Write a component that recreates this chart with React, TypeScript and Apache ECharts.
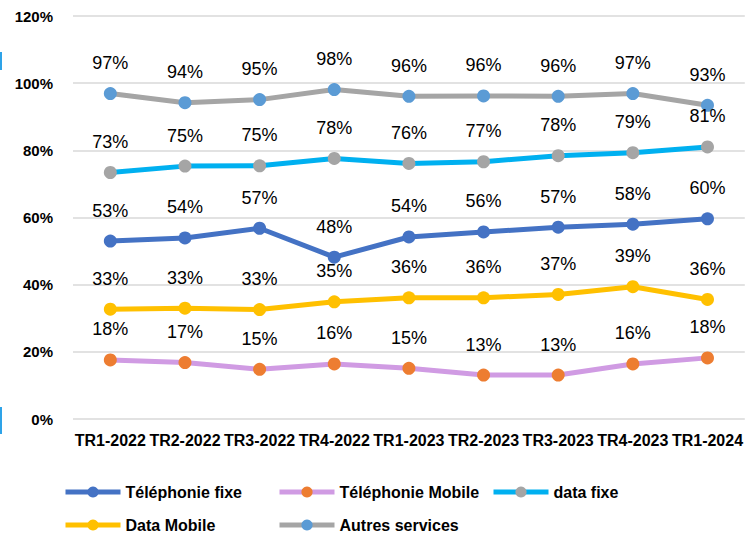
import React, { useEffect, useRef } from "react";
import * as echarts from "echarts";

const categories = ["TR1-2022", "TR2-2022", "TR3-2022", "TR4-2022", "TR1-2023", "TR2-2023", "TR3-2023", "TR4-2023", "TR1-2024"];
const telFixe = [53.0, 53.9, 56.8, 48.2, 54.2, 55.7, 57.1, 58.0, 59.6];
const telMobile = [17.6, 16.8, 14.8, 16.4, 15.1, 13.1, 13.1, 16.4, 18.2];
const dataFixe = [73.4, 75.3, 75.4, 77.6, 76.1, 76.6, 78.4, 79.3, 81.0];
const dataMobile = [32.7, 33.0, 32.6, 34.9, 36.1, 36.1, 37.1, 39.4, 35.6];
const autres = [96.9, 94.2, 95.1, 98.1, 96.1, 96.2, 96.1, 96.9, 93.4];
const yTicks = { min: 0, max: 120, interval: 20 };

const seriesDefs = [
  { name: "Téléphonie fixe", data: telFixe, line: "#4472C4", marker: "#4472C4" },
  { name: "Téléphonie Mobile", data: telMobile, line: "#D09BE3", marker: "#ED7D31" },
  { name: "data fixe", data: dataFixe, line: "#00B0F0", marker: "#A5A5A5" },
  { name: "Data Mobile", data: dataMobile, line: "#FFC000", marker: "#FFC000" },
  { name: "Autres services", data: autres, line: "#A5A5A5", marker: "#5B9BD5" },
];

const legendPos = [
  { left: 63, top: 484 },
  { left: 277, top: 484 },
  { left: 491, top: 484 },
  { left: 63, top: 517 },
  { left: 277, top: 517 },
];

const FONT = "'Liberation Sans', Arial, sans-serif";

export default function App() {
  const ref = useRef<HTMLDivElement>(null);
  useEffect(() => {
    document.body.style.margin = "0";
    const chart = echarts.init(ref.current!, null, { renderer: "svg" });
    chart.setOption({
      animation: false,
      backgroundColor: "#ffffff",
      textStyle: { fontFamily: FONT },
      grid: { left: 73, right: 0, top: 16, bottom: 121, containLabel: false },
      xAxis: {
        type: "category",
        data: categories,
        boundaryGap: true,
        axisTick: { show: false },
        axisLine: { show: false },
        axisLabel: { interval: 0, margin: 13, fontSize: 16, fontWeight: "bold", color: "#000", fontFamily: FONT },
      },
      yAxis: {
        type: "value",
        min: yTicks.min,
        max: yTicks.max,
        interval: yTicks.interval,
        axisLine: { show: false },
        axisTick: { show: false },
        splitLine: { lineStyle: { color: "#D9D9D9", width: 1.5 } },
        axisLabel: { formatter: "{value}%", margin: 20, fontSize: 15, fontWeight: "bold", color: "#000", fontFamily: FONT },
      },
      legend: seriesDefs.map((s, i) => ({
        data: [s.name],
        left: legendPos[i].left,
        top: legendPos[i].top,
        padding: 0,
        itemWidth: 55,
        itemHeight: 14,
        itemGap: 5,
        lineStyle: { width: 5 },
        textStyle: { fontSize: 16, fontWeight: "bold", color: "#000", fontFamily: FONT },
      })),
      series: seriesDefs.map((s) => ({
        name: s.name,
        type: "line",
        data: s.data,
        symbol: "circle",
        symbolSize: 13,
        lineStyle: { color: s.line, width: 5 },
        itemStyle: { color: s.marker },
        label: {
          show: true,
          position: "top",
          distance: 15,
          fontSize: 18,
          color: "#000",
          fontFamily: FONT,
          formatter: (p: any) => Math.round(p.value) + "%",
        },
      })),
      graphic: [
        { type: "rect", shape: { x: 0, y: 52, width: 2, height: 18 }, style: { fill: "#2EA3E8" } },
        { type: "rect", shape: { x: 0, y: 407, width: 2, height: 27 }, style: { fill: "#2EA3E8" } },
      ],
    });
    return () => chart.dispose();
  }, []);
  return <div ref={ref} style={{ width: 746, height: 540 }} />;
}
